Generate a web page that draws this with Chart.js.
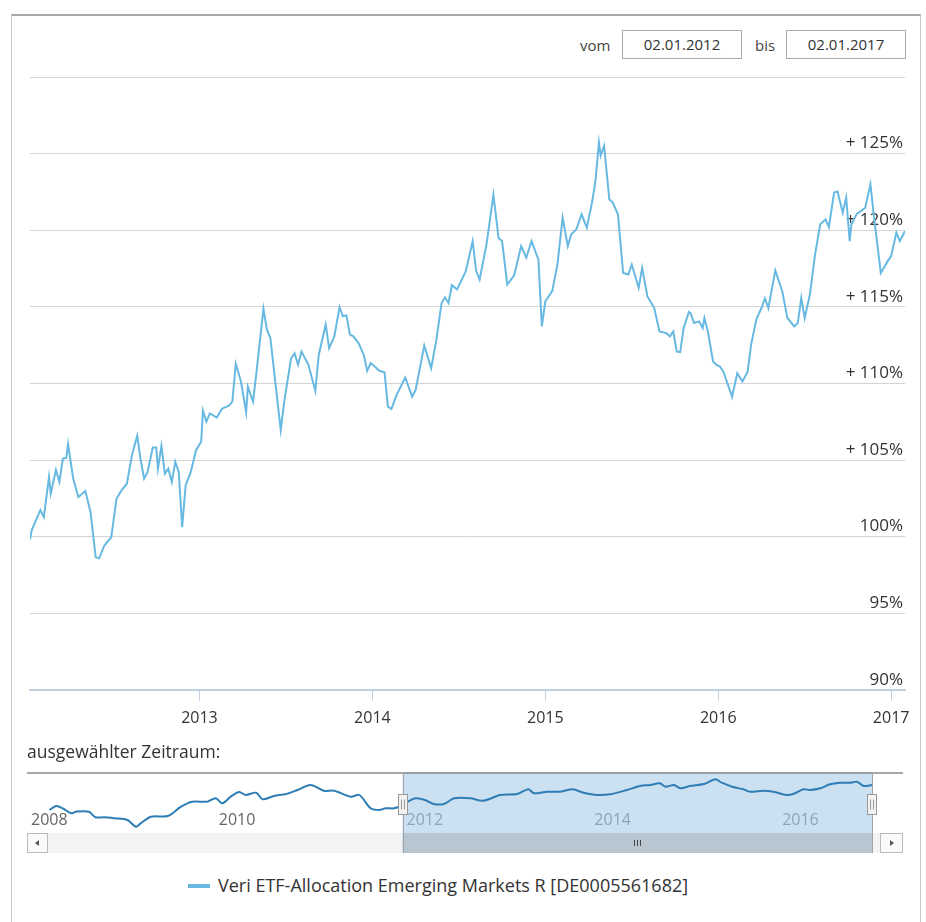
<!DOCTYPE html>
<html lang="de">

<head>
  <meta charset="UTF-8">
  <title>Wertentwicklung</title>
  <script src="https://cdn.jsdelivr.net/npm/chart.js"></script>
  <style>
    body { margin: 0; width: 926px; height: 922px; background: #fff; font-family: "Open Sans", sans-serif; color: #333; position: relative; overflow: hidden; }
    #rahmen { position: absolute; left: 11px; top: 14px; width: 908px; height: 920px; border-top: 2px solid #a8a8a8; border-left: 1px solid #c8c8c8; border-right: 1px solid #c8c8c8; }
    .txt { position: absolute; font-size: 15px; color: #444; }
    .datum { position: absolute; top: 30px; width: 118px; height: 27px; line-height: 27px; border: 1px solid #aaa; text-align: center; font-size: 15px; color: #333; }
    #hauptChart { position: absolute; left: 12px; top: 60px; }
    #navChart { position: absolute; left: 27px; top: 772px; }
    #zeitraum { position: absolute; left: 27px; top: 739px; font-size: 17.5px; color: #333; }
    #legende { position: absolute; left: 188px; top: 873px; font-size: 18px; color: #333; white-space: nowrap; }
    #legende span.sym { display: inline-block; width: 22px; height: 4px; background: #68b9e2; vertical-align: middle; margin-right: 8px; position: relative; top: -1px; }
  </style>
</head>

<body>
  <div id="rahmen"></div>
  <span class="txt" style="left:580px; top:35px;">vom</span>
  <div class="datum" style="left:622px;">02.01.2012</div>
  <span class="txt" style="left:755px; top:35px;">bis</span>
  <div class="datum" style="left:786px;">02.01.2017</div>

  <canvas id="hauptChart" width="908" height="684"></canvas>

  <div id="zeitraum">ausgewählter Zeitraum:</div>
  <canvas id="navChart" width="876" height="81"></canvas>

  <div id="legende"><span class="sym"></span>Veri ETF-Allocation Emerging Markets R [DE0005561682]</div>

  <script>
    // Fondsname / Zeitraum
    const fondsName = 'Veri ETF-Allocation Emerging Markets R [DE0005561682]';
    const rangeFrom = 2012.0;
    const rangeTo = 2017.0;

    // Hauptchart: Zeitpunkte (Jahr als Dezimalzahl) und Wertentwicklung in %
    const mainYears = [
      2012.02, 2012.03, 2012.08, 2012.10, 2012.13, 2012.14, 2012.17, 2012.19, 2012.21, 2012.23,
      2012.24, 2012.27, 2012.30, 2012.34, 2012.37, 2012.40, 2012.42, 2012.45, 2012.49, 2012.52,
      2012.55, 2012.58, 2012.61, 2012.64, 2012.66, 2012.68, 2012.70, 2012.73, 2012.75, 2012.76,
      2012.78, 2012.80, 2012.82, 2012.84, 2012.86, 2012.88, 2012.90, 2012.92, 2012.95, 2012.98,
      2013.01, 2013.02, 2013.04, 2013.06, 2013.10, 2013.13, 2013.17, 2013.19, 2013.21, 2013.24,
      2013.27, 2013.28, 2013.31, 2013.33, 2013.37, 2013.39, 2013.41, 2013.47, 2013.49, 2013.53,
      2013.55, 2013.57, 2013.59, 2013.63, 2013.67, 2013.69, 2013.73, 2013.75, 2013.78, 2013.81,
      2013.83, 2013.85, 2013.87, 2013.89, 2013.92, 2013.95, 2013.97, 2013.99, 2014.02, 2014.04,
      2014.07, 2014.09, 2014.11, 2014.14, 2014.19, 2014.23, 2014.25, 2014.30, 2014.34, 2014.37,
      2014.40, 2014.42, 2014.44, 2014.46, 2014.49, 2014.54, 2014.58, 2014.60, 2014.62, 2014.66,
      2014.70, 2014.73, 2014.75, 2014.78, 2014.82, 2014.86, 2014.89, 2014.92, 2014.96, 2014.98,
      2015.00, 2015.04, 2015.07, 2015.10, 2015.13, 2015.15, 2015.18, 2015.21, 2015.24, 2015.27,
      2015.29, 2015.31, 2015.32, 2015.34, 2015.37, 2015.39, 2015.42, 2015.45, 2015.48, 2015.50,
      2015.54, 2015.56, 2015.59, 2015.63, 2015.66, 2015.70, 2015.72, 2015.74, 2015.76, 2015.78,
      2015.80, 2015.83, 2015.84, 2015.86, 2015.89, 2015.91, 2015.92, 2015.94, 2015.97, 2015.99,
      2016.01, 2016.03, 2016.08, 2016.11, 2016.14, 2016.17, 2016.19, 2016.22, 2016.25, 2016.27,
      2016.29, 2016.33, 2016.37, 2016.40, 2016.44, 2016.46, 2016.48, 2016.50, 2016.53, 2016.56,
      2016.59, 2016.62, 2016.64, 2016.67, 2016.69, 2016.72, 2016.74, 2016.76, 2016.77, 2016.80,
      2016.85, 2016.88, 2016.90, 2016.94, 2016.98, 2017.00, 2017.03, 2017.05, 2017.08
    ];
    const mainValues = [
      99.8, 100.42, 101.73, 101.27, 103.89, 102.80, 104.35, 103.56, 105.09, 105.14,
      106.05, 103.78, 102.58, 102.97, 101.60, 98.65, 98.58, 99.42, 99.96, 102.47,
      103.04, 103.45, 105.33, 106.58, 105.01, 103.78, 104.22, 105.81, 105.81, 104.44,
      105.92, 104.11, 104.44, 103.56, 104.88, 104.22, 100.62, 103.35, 104.22, 105.64,
      106.19, 108.22, 107.50, 108.04, 107.76, 108.35, 108.55, 108.81, 111.28, 110.12,
      108.11, 109.79, 108.81, 110.77, 114.88, 113.51, 112.96, 106.95, 108.81, 111.64,
      111.97, 111.21, 112.08, 111.21, 109.51, 111.87, 113.83, 112.30, 113.07, 114.97,
      114.38, 114.44, 113.18, 113.07, 112.63, 111.87, 110.82, 111.32, 111.04, 110.82,
      110.73, 108.48, 108.33, 109.25, 110.38, 109.13, 109.57, 112.46, 110.99, 112.85,
      115.25, 115.62, 115.25, 116.41, 116.13, 117.33, 119.29, 117.33, 116.78, 119.08,
      122.31, 119.47, 119.29, 116.45, 117.06, 118.96, 118.20, 119.29, 118.09, 113.72,
      115.36, 116.02, 117.76, 120.82, 118.96, 119.73, 120.06, 121.04, 120.16, 121.80,
      123.22, 125.73, 124.86, 125.52, 122.02, 121.80, 121.04, 117.21, 117.11, 117.76,
      116.23, 117.54, 115.69, 114.92, 113.39, 113.28, 113.07, 113.39, 112.08, 112.04,
      113.61, 114.66, 114.59, 113.94, 114.05, 113.61, 114.27, 113.39, 111.43, 111.21,
      111.10, 110.77, 109.13, 110.66, 110.12, 110.77, 112.52, 114.16, 114.92, 115.54,
      114.92, 117.37, 116.02, 114.27, 113.72, 113.94, 115.58, 114.27, 115.80, 118.42,
      120.39, 120.71, 120.21, 122.46, 122.52, 121.15, 122.13, 119.29, 120.39, 121.04,
      121.47, 123.01, 120.93, 117.21, 117.98, 118.31, 119.84, 119.29, 119.95
    ];
    const yearTicks = [2013, 2014, 2015, 2016, 2017];

    // Navigator: gesamte Historie
    const navYears = [
      2008.24, 2008.31, 2008.38, 2008.47, 2008.52, 2008.66, 2008.73, 2008.82, 2008.93,
      2009.07, 2009.16, 2009.21, 2009.32, 2009.50, 2009.64, 2009.76, 2009.92,
      2010.01, 2010.08, 2010.17, 2010.26, 2010.33, 2010.44, 2010.51, 2010.63, 2010.76, 2010.88,
      2011.02, 2011.16, 2011.27, 2011.45, 2011.54, 2011.66, 2011.75, 2011.82, 2011.91,
      2012.00, 2012.05, 2012.14, 2012.24, 2012.33, 2012.44, 2012.55, 2012.72, 2012.86,
      2013.04, 2013.22, 2013.34, 2013.40, 2013.54, 2013.68, 2013.81, 2013.93,
      2014.07, 2014.21, 2014.39, 2014.53, 2014.64, 2014.74, 2014.80, 2014.89, 2014.96,
      2015.06, 2015.21, 2015.33, 2015.40, 2015.51, 2015.63, 2015.70, 2015.84, 2015.95,
      2016.09, 2016.16, 2016.27, 2016.34, 2016.45, 2016.55, 2016.66, 2016.77, 2016.84, 2016.91,
      2017.00
    ];
    const navValues = [
      95.0, 99.0, 96.7, 91.7, 93.3, 93.3, 87.7, 87.7, 86.7,
      85.0, 78.3, 81.7, 88.3, 89.0, 98.3, 103.3, 103.3,
      106.7, 101.7, 108.3, 113.0, 110.0, 112.3, 105.7, 109.0, 111.0, 115.0,
      120.0, 114.3, 114.3, 108.3, 110.0, 96.7, 95.0, 96.7, 96.7,
      100.0, 103.0, 106.7, 105.0, 101.0, 101.0, 106.7, 106.7, 104.3,
      110.0, 111.0, 115.7, 111.7, 113.3, 113.3, 115.7, 112.3,
      110.0, 110.7, 115.0, 119.0, 120.0, 121.7, 118.3, 120.0, 116.7,
      119.0, 121.0, 125.7, 122.3, 118.3, 115.7, 113.3, 114.3, 113.3,
      110.0, 111.0, 115.7, 115.0, 116.7, 120.7, 122.3, 122.3, 123.3, 119.0,
      120.0
    ];
    const navYearTicks = [2008, 2010, 2012, 2014, 2016];

    Chart.defaults.font.family = "'Open Sans', sans-serif";

    // Prozent-Beschriftung wie im Original
    function pctLabel(v) {
      return v > 100 ? '+ ' + v + '%' : v + '%';
    }

    // y-Beschriftung rechts im Chart, über der Gitterlinie
    const yLabels = {
      id: 'yLabels',
      beforeDatasetsDraw(chart) {
        const { ctx, chartArea, scales: { y } } = chart;
        ctx.save();
        ctx.font = '17px "Open Sans"';
        ctx.fillStyle = '#333';
        ctx.textAlign = 'right';
        ctx.textBaseline = 'middle';
        y.ticks.forEach(t => {
          if (t.value >= 130) return;
          ctx.fillText(pctLabel(t.value), chartArea.right - 2, y.getPixelForValue(t.value) - 10);
        });
        ctx.restore();
      }
    };

    new Chart(document.getElementById('hauptChart'), {
      type: 'line',
      data: {
        datasets: [{
          label: fondsName,
          data: mainYears.map((x, i) => ({ x: x, y: mainValues[i] })),
          borderColor: '#68b9e2',
          borderWidth: 2,
          pointRadius: 0,
          tension: 0,
          fill: false
        }]
      },
      options: {
        responsive: false,
        animation: false,
        layout: { padding: { top: 17, left: 18, right: 15, bottom: 8 } },
        plugins: { legend: { display: false }, tooltip: { enabled: false } },
        scales: {
          x: {
            type: 'linear',
            min: 2012.02,
            max: 2017.08,
            afterBuildTicks: s => { s.ticks = yearTicks.map(v => ({ value: v })); },
            grid: { drawOnChartArea: false, color: '#bfd0e0', tickLength: 11 },
            border: { color: '#bfd0e0', width: 2 },
            ticks: { color: '#333', font: { size: 16 }, padding: 8, maxRotation: 0, callback: v => String(v) }
          },
          y: {
            position: 'right',
            min: 90,
            max: 130,
            ticks: { stepSize: 5, display: false },
            grid: { color: c => c.tick && c.tick.value === 90 ? 'rgba(0,0,0,0)' : '#d4d4d4', drawTicks: false },
            border: { display: false }
          }
        }
      },
      plugins: [yLabels]
    });

    // Navigator mit Auswahlbereich und Scrollbar
    const navDeko = {
      id: 'navDeko',
      beforeDatasetsDraw(chart) {
        const { ctx, chartArea: a, scales: { x } } = chart;
        const x1 = x.getPixelForValue(rangeFrom);
        const x2 = x.getPixelForValue(rangeTo);
        ctx.save();
        ctx.font = '16px "Open Sans"';
        ctx.textAlign = 'left';
        ctx.textBaseline = 'middle';
        ctx.fillStyle = '#666';
        navYearTicks.forEach(v => {
          const px = x.getPixelForValue(v);
          ctx.fillText(String(v), Math.max(px, a.left) + 4, a.top + 48);
        });
        ctx.fillStyle = 'rgba(168, 204, 232, 0.6)';
        ctx.fillRect(x1, a.top, x2 - x1, a.bottom - a.top);
        ctx.restore();
      },
      afterDraw(chart) {
        const { ctx, chartArea: a, scales: { x } } = chart;
        const x1 = x.getPixelForValue(rangeFrom);
        const x2 = x.getPixelForValue(rangeTo);
        const sy = a.bottom, sh = 20;
        ctx.save();
        // obere Linie
        ctx.strokeStyle = '#8a8a8a';
        ctx.lineWidth = 1.5;
        ctx.beginPath(); ctx.moveTo(a.left, a.top + 1); ctx.lineTo(a.right, a.top + 1); ctx.stroke();
        // Scrollbar
        ctx.fillStyle = '#f3f3f3';
        ctx.fillRect(a.left, sy, a.right - a.left, sh);
        ctx.fillStyle = '#b8c6d1';
        ctx.fillRect(x1, sy, x2 - x1, sh);
        ctx.strokeStyle = '#444';
        ctx.lineWidth = 1;
        const mx = Math.round((x1 + x2) / 2) + 0.5;
        [-3, 0, 3].forEach(d => {
          ctx.beginPath(); ctx.moveTo(mx + d, sy + 7); ctx.lineTo(mx + d, sy + 13); ctx.stroke();
        });
        // Pfeil-Buttons
        ctx.fillStyle = '#fafafa';
        ctx.strokeStyle = '#bbb';
        ctx.fillRect(a.left, sy, 21, sh); ctx.strokeRect(a.left + 0.5, sy + 0.5, 20, sh - 1);
        ctx.fillRect(a.right - 23, sy, 23, sh); ctx.strokeRect(a.right - 22.5, sy + 0.5, 22, sh - 1);
        ctx.fillStyle = '#555';
        ctx.beginPath(); ctx.moveTo(a.left + 8, sy + 10); ctx.lineTo(a.left + 12, sy + 7); ctx.lineTo(a.left + 12, sy + 13); ctx.fill();
        ctx.beginPath(); ctx.moveTo(a.right - 9, sy + 10); ctx.lineTo(a.right - 13, sy + 7); ctx.lineTo(a.right - 13, sy + 13); ctx.fill();
        // Rand der Auswahl
        ctx.strokeStyle = '#9aa5ae';
        ctx.beginPath();
        ctx.moveTo(Math.round(x1) + 0.5, a.top); ctx.lineTo(Math.round(x1) + 0.5, sy + sh);
        ctx.moveTo(Math.round(x2) + 0.5, a.top); ctx.lineTo(Math.round(x2) + 0.5, sy + sh);
        ctx.stroke();
        // Griffe
        const cy = (a.top + a.bottom) / 2 + 2;
        [x1, x2].forEach(hx => {
          const rx = Math.round(hx) - 4.5;
          ctx.fillStyle = '#f2f2f2';
          ctx.strokeStyle = '#999';
          ctx.fillRect(rx, cy - 10, 9, 20);
          ctx.strokeRect(rx, cy - 10, 9, 20);
          ctx.beginPath();
          ctx.moveTo(rx + 3, cy - 5); ctx.lineTo(rx + 3, cy + 5);
          ctx.moveTo(rx + 6, cy - 5); ctx.lineTo(rx + 6, cy + 5);
          ctx.stroke();
        });
        ctx.restore();
      }
    };

    new Chart(document.getElementById('navChart'), {
      type: 'line',
      data: {
        datasets: [{
          data: navYears.map((x, i) => ({ x: x, y: navValues[i] })),
          borderColor: '#2f7db5',
          borderWidth: 2,
          pointRadius: 0,
          tension: 0.3,
          fill: false
        }]
      },
      options: {
        responsive: false,
        animation: false,
        layout: { padding: { top: 0, bottom: 20, left: 0, right: 0 } },
        plugins: { legend: { display: false }, tooltip: { enabled: false } },
        scales: {
          x: { type: 'linear', display: false, min: 2008.0, max: 2017.33 },
          y: { display: false, min: 72, max: 133 }
        }
      },
      plugins: [navDeko]
    });
  </script>
</body>

</html>
